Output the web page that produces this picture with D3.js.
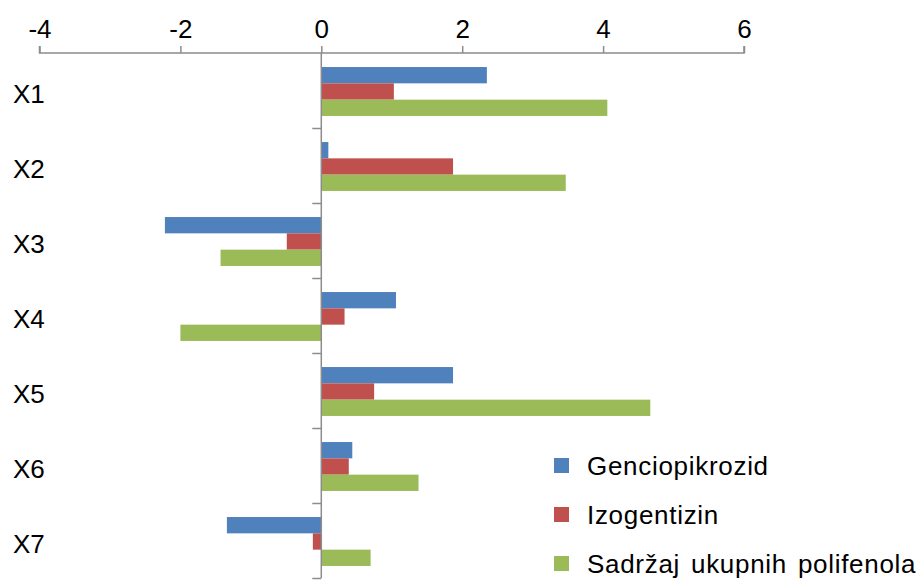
<!DOCTYPE html>
<html>
<head>
<meta charset="utf-8">
<script src="https://cdn.jsdelivr.net/npm/d3@7/dist/d3.min.js"></script>
<style>
  html, body { margin: 0; padding: 0; background: #fff; }
  svg { display: block; font-family: "Liberation Sans", Arial, sans-serif; }
</style>
</head>
<body>
<svg id="chart" width="920" height="580"></svg>
<script>
const categories = ["X1", "X2", "X3", "X4", "X5", "X6", "X7"];
const seriesNames = ["Genciopikrozid", "Izogentizin", "Sadržaj ukupnih polifenola"];
const genciopikrozid = [2.35, 0.10, -2.22, 1.06, 1.87, 0.44, -1.34];
const izogentizin = [1.03, 1.87, -0.49, 0.33, 0.75, 0.39, -0.12];
const polifenoli = [4.06, 3.47, -1.43, -2.00, 4.67, 1.38, 0.70];
const xTickValues = [-4, -2, 0, 2, 4, 6];
const colors = ["#4F81BD", "#C0504D", "#9BBB59"];

const seriesValues = [genciopikrozid, izogentizin, polifenoli];

const svg = d3.select("#chart");
const axisColor = "#8c8c8c";

const x = d3.scaleLinear().domain([-4, 6]).range([39.5, 744]);
const plotTop = 53, plotBottom = 578;
const y = d3.scaleBand().domain(categories).range([plotTop, plotBottom]).padding(0);
const ySub = d3.scaleBand().domain(seriesNames).range([0, y.bandwidth()])
  .paddingInner(0).paddingOuter(0.8);

// bars
seriesNames.forEach((s, si) => {
  svg.append("g").selectAll("rect")
    .data(categories.map((c, i) => ({ c, v: seriesValues[si][i] })))
    .join("rect")
    .attr("x", d => x(Math.min(0, d.v)))
    .attr("width", d => Math.abs(x(d.v) - x(0)))
    .attr("y", d => y(d.c) + ySub(s) + 1)
    .attr("height", ySub.bandwidth())
    .attr("fill", colors[si]);
});

// top axis
const xAxis = svg.append("g")
  .attr("transform", `translate(0,${plotTop})`)
  .call(d3.axisTop(x).tickValues(xTickValues).tickSize(7).tickPadding(8)
    .tickFormat(d => d < 0 ? "-" + Math.abs(d) : d));
xAxis.select(".domain").attr("stroke", axisColor).attr("stroke-width", 1.5)
  .attr("d", `M${x(-4)},-7V0H${x(6)}V-7`);
xAxis.selectAll(".tick line").attr("stroke", axisColor).attr("stroke-width", 1.5);
xAxis.selectAll(".tick text").attr("fill", "#000").attr("font-size", 26)
  .attr("font-family", "'Liberation Sans', Arial, sans-serif");

// vertical category axis at zero
const yIdx = d3.scaleLinear().domain([0, categories.length]).range([plotTop, plotBottom]);
const yAxis = svg.append("g")
  .attr("transform", `translate(${x(0)},0)`)
  .call(d3.axisLeft(yIdx).ticks(categories.length).tickSize(9).tickFormat(""));
yAxis.select(".domain").attr("stroke", axisColor).attr("stroke-width", 1.5)
  .attr("d", `M0,${plotTop}V${plotBottom}`);
yAxis.selectAll(".tick line").attr("stroke", axisColor).attr("stroke-width", 1.5);
yAxis.selectAll(".tick").filter(d => d === 0).remove();

// category labels
svg.append("g").selectAll("text")
  .data(categories)
  .join("text")
  .attr("x", 13)
  .attr("y", d => y(d) + y.bandwidth() / 2 + 12)
  .attr("font-size", 26)
  .attr("fill", "#000")
  .text(d => d);

// legend
const legendY = d3.scalePoint().domain(seriesNames).range([475, 573]);
const lg = svg.append("g");
lg.selectAll("rect").data(seriesNames).join("rect")
  .attr("x", 554).attr("y", d => legendY(d) - 17)
  .attr("width", 15).attr("height", 15)
  .attr("fill", (d, i) => colors[i]);
lg.selectAll("text").data(seriesNames).join("text")
  .attr("x", 587).attr("y", d => legendY(d))
  .attr("font-size", 26)
  .attr("letter-spacing", 0.7)
  .attr("word-spacing", 3)
  .attr("fill", "#000")
  .text(d => d);
</script>
</body>
</html>
